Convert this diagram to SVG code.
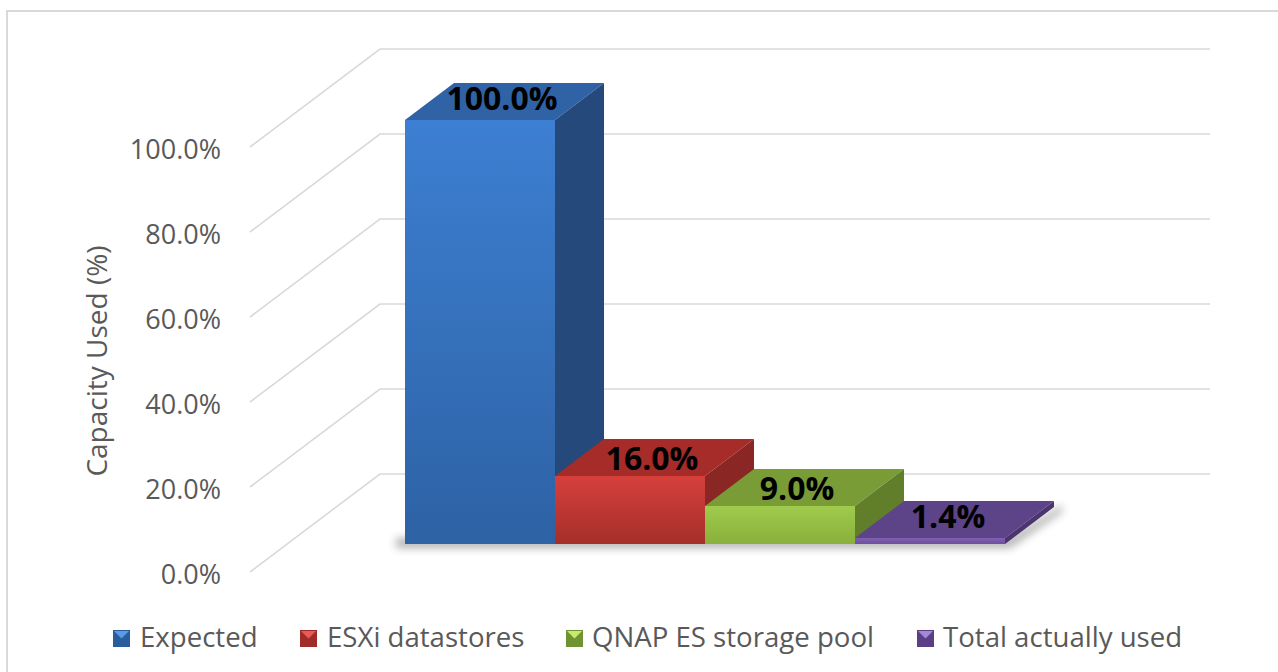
<svg xmlns="http://www.w3.org/2000/svg" width="1278" height="672" viewBox="0 0 1278 672">
<style>
.grid{fill:none;stroke:#d9d9d9;stroke-width:1.6}
.ax{font-family:"Open Sans","Noto Sans",sans-serif;font-size:27px;fill:#595959}
.leg{font-family:"Open Sans","Noto Sans",sans-serif;font-size:27.6px;fill:#595959}
.lbl{font-family:"Open Sans","Noto Sans",sans-serif;font-size:32px;font-weight:bold;fill:#000;text-anchor:middle}
</style>
<defs>
<linearGradient id="gBlue" x1="0" y1="0" x2="0" y2="1"><stop offset="0" stop-color="#3d7fd2"/><stop offset="1" stop-color="#2d62a4"/></linearGradient>
<linearGradient id="gRed" x1="0" y1="0" x2="0" y2="1"><stop offset="0" stop-color="#d6403b"/><stop offset="1" stop-color="#a52e2b"/></linearGradient>
<linearGradient id="gGreen" x1="0" y1="0" x2="0" y2="1"><stop offset="0" stop-color="#a0cb4c"/><stop offset="1" stop-color="#88b03b"/></linearGradient>
<linearGradient id="gPurple" x1="0" y1="0" x2="0" y2="1"><stop offset="0" stop-color="#8060b3"/><stop offset="1" stop-color="#6d4f9c"/></linearGradient>
<filter id="blur" x="-20%" y="-50%" width="140%" height="200%"><feGaussianBlur stdDeviation="4"/></filter>
</defs>
<rect x="7" y="11" width="1300" height="700" fill="#fff" stroke="#d9d9d9" stroke-width="2"/>
<g id="gridlines">
<polyline class="grid" points="250,572 380,474 1210,474"/>
<polyline class="grid" points="250,487 380,389 1210,389"/>
<polyline class="grid" points="250,402 380,304 1210,304"/>
<polyline class="grid" points="250,317 380,219 1210,219"/>
<polyline class="grid" points="250,232 380,134 1210,134"/>
<polyline class="grid" points="250,147 380,49 1210,49"/>
</g>
<g id="y-axis">
<text class="ax" x="221" y="159" text-anchor="end">100.0%</text>
<text class="ax" x="221" y="244" text-anchor="end">80.0%</text>
<text class="ax" x="221" y="329" text-anchor="end">60.0%</text>
<text class="ax" x="221" y="414" text-anchor="end">40.0%</text>
<text class="ax" x="221" y="499" text-anchor="end">20.0%</text>
<text class="ax" x="221" y="584" text-anchor="end">0.0%</text>
<text class="ax" style="font-size:28px" transform="translate(107,361) rotate(-90)" text-anchor="middle">Capacity Used (%)</text>
</g>
<g id="shadow" filter="url(#blur)" opacity="0.45">
<polygon points="396,538 1008,538 1062,505 1062,512 1010,548 396,548" fill="#555"/>
</g>
<g id="bar-expected">
<rect x="405" y="120" width="150" height="424" fill="url(#gBlue)"/>
<polygon points="405,120 454,83 604,83 555,120" fill="#2f63a6"/>
<polygon points="555,120 604,83 604,507 555,544" fill="#25497a"/>
<text class="lbl" x="502" y="110">100.0%</text>
</g>
<g id="bar-esxi">
<rect x="555" y="476" width="150" height="68" fill="url(#gRed)"/>
<polygon points="555,476 604,439 754,439 705,476" fill="#a62c29"/>
<polygon points="705,476 754,439 754,507 705,544" fill="#8a2624"/>
<text class="lbl" x="652" y="470">16.0%</text>
</g>
<g id="bar-qnap">
<rect x="705" y="506" width="150" height="38" fill="url(#gGreen)"/>
<polygon points="705,506 754,469 904,469 855,506" fill="#7a9c37"/>
<polygon points="855,506 904,469 904,507 855,544" fill="#617f2b"/>
<text class="lbl" x="797" y="500">9.0%</text>
</g>
<g id="bar-total">
<rect x="855" y="538" width="150" height="6" fill="url(#gPurple)"/>
<polygon points="855,538 904,501 1054,501 1005,538" fill="#5d4388"/>
<polygon points="1005,538 1054,501 1054,507 1005,544" fill="#4b356e"/>
<text class="lbl" x="948" y="528">1.4%</text>
</g>
<g id="legend">
<g id="legend-expected">
<rect x="113" y="630" width="17" height="17" fill="#2a5d9c"/>
<polygon points="114,631 129,631 121.5,638.5" fill="#5a9ae6"/>
<text class="leg" x="140" y="647">Expected</text>
</g>
<g id="legend-esxi">
<rect x="300" y="630" width="17" height="17" fill="#a02c29"/>
<polygon points="301,631 316,631 308.5,638.5" fill="#ea5a55"/>
<text class="leg" x="327" y="647">ESXi datastores</text>
</g>
<g id="legend-qnap">
<rect x="566" y="630" width="17" height="17" fill="#6f9232"/>
<polygon points="567,631 582,631 574.5,638.5" fill="#c8ea6a"/>
<text class="leg" x="592" y="647">QNAP ES storage pool</text>
</g>
<g id="legend-total">
<rect x="917" y="630" width="17" height="17" fill="#5a3f86"/>
<polygon points="918,631 933,631 925.5,638.5" fill="#a487d6"/>
<text class="leg" x="943" y="647">Total actually used</text>
</g>
</g>
</svg>
